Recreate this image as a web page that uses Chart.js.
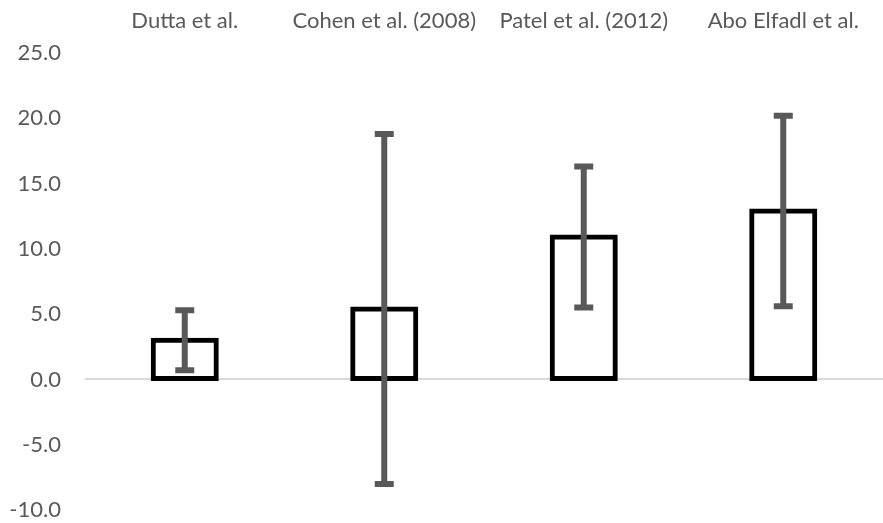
<!DOCTYPE html>
<html>
<head>
<meta charset="utf-8">
<script src="https://cdn.jsdelivr.net/npm/chart.js@4/dist/chart.umd.min.js"></script>
<style>
  html, body { margin: 0; padding: 0; background: #ffffff; }
  #wrap { width: 883px; height: 523px; }
</style>
</head>
<body>
<div id="wrap"><canvas id="c" width="883" height="523"></canvas></div>
<script>
// Study labels along the top axis
const categories = ['Dutta et al.', 'Cohen et al. (2008)', 'Patel et al. (2012)', 'Abo Elfadl et al.'];
// Mean values (bar heights)
const means = [3.0, 5.4, 10.9, 12.9];
// Symmetric error half-widths
const errors = [2.3, 13.4, 5.4, 7.3];
// Value axis ticks
const yTicks = [-10, -5, 0, 5, 10, 15, 20, 25];

const TEXT = '#595959';
const FONT = { family: 'Lato, "Open Sans", sans-serif', size: 22 };

// Draws vertical error bars with flat caps over each bar
const errorBarPlugin = {
  id: 'errorBars',
  afterDatasetsDraw(chart) {
    const { ctx, scales: { y } } = chart;
    const meta = chart.getDatasetMeta(0);
    ctx.save();
    ctx.strokeStyle = '#595959';
    ctx.lineCap = 'butt';
    ctx.lineWidth = 6;
    meta.data.forEach((bar, i) => {
      const x = bar.x;
      const yHi = y.getPixelForValue(means[i] + errors[i]);
      const yLo = y.getPixelForValue(means[i] - errors[i]);
      ctx.beginPath();
      ctx.moveTo(x, yHi);
      ctx.lineTo(x, yLo);
      ctx.moveTo(x - 9.5, yHi);
      ctx.lineTo(x + 9.5, yHi);
      ctx.moveTo(x - 9.5, yLo);
      ctx.lineTo(x + 9.5, yLo);
      ctx.stroke();
    });
    ctx.restore();
  }
};

new Chart(document.getElementById('c'), {
  type: 'bar',
  data: {
    labels: categories,
    datasets: [{
      data: means,
      backgroundColor: '#ffffff',
      borderColor: '#000000',
      borderWidth: 5,
      borderSkipped: false,
      inflateAmount: 2.5,
      barPercentage: 0.316,
      categoryPercentage: 1.0
    }]
  },
  options: {
    responsive: false,
    animation: false,
    events: [],
    layout: { padding: { top: 0, right: 0, bottom: 13, left: 0 } },
    plugins: { legend: { display: false }, tooltip: { enabled: false } },
    scales: {
      x: {
        position: 'top',
        grid: { display: false, drawTicks: false },
        border: { display: false },
        ticks: { color: TEXT, font: FONT, padding: 19, maxRotation: 0, autoSkip: false },
        afterFit(scale) { scale.height = 53; }
      },
      y: {
        min: yTicks[0],
        max: yTicks[yTicks.length - 1],
        afterBuildTicks(scale) { scale.ticks = yTicks.map(v => ({ value: v })); },
        grid: {
          drawTicks: false,
          lineWidth: 2,
          color: (c) => (c.tick && c.tick.value === 0 ? '#d9d9d9' : 'rgba(0,0,0,0)')
        },
        border: { display: false },
        ticks: {
          color: TEXT,
          font: FONT,
          padding: 24,
          callback: (v) => Number(v).toFixed(1)
        },
        afterFit(scale) {
          scale.width = 85;
          scale.paddingTop = 0;
          scale.paddingBottom = 0;
        }
      }
    }
  },
  plugins: [errorBarPlugin]
});
</script>
</body>
</html>
